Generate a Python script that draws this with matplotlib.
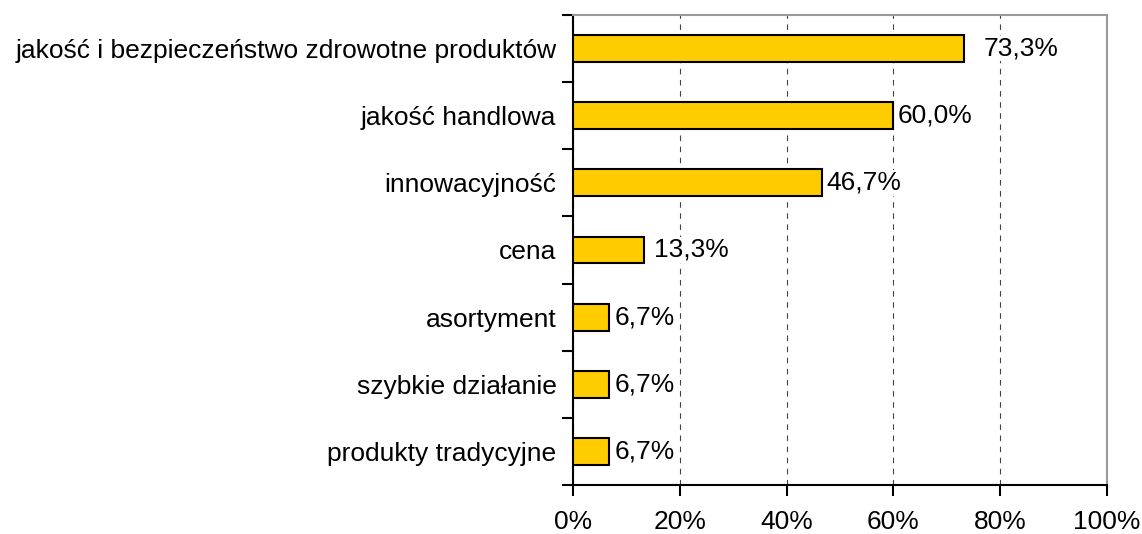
import numpy as np
import matplotlib.pyplot as plt

plt.rcParams['font.family'] = ['Liberation Sans', 'DejaVu Sans']

# data
categories = ["jakość i bezpieczeństwo zdrowotne produktów", "jakość handlowa",
              "innowacyjność", "cena", "asortyment", "szybkie działanie",
              "produkty tradycyjne"]
values = [73.3, 60.0, 46.7, 13.3, 6.7, 6.7, 6.7]
labels = ["73,3%", "60,0%", "46,7%", "13,3%", "6,7%", "6,7%", "6,7%"]
xticks = [0, 20, 40, 60, 80, 100]

# label gaps (points) as placed in the original
pads = [14, 3, 3, 7, 4, 4, 4]

fig = plt.figure(figsize=(11.42, 5.34), dpi=100)
ax = fig.add_axes([0.5018, 0.0918, 0.9694 - 0.5018, 0.9719 - 0.0918])

y = np.arange(len(categories))
bars = ax.barh(y, values, height=0.4, color="#FFCC00", edgecolor="black", linewidth=1.5, zorder=3)
for b, lab, p in zip(bars, labels, pads):
    ax.annotate(lab, (b.get_width(), b.get_y() + b.get_height() / 2),
                xytext=(p, 0), textcoords="offset points", ha="left", va="center",
                fontsize=19, zorder=4,
                bbox=dict(facecolor="white", edgecolor="none", pad=0.5))

ax.set_xlim(0, 100)
ax.set_ylim(len(categories) - 0.5, -0.5)
ax.set_xticks(xticks)
ax.set_xticklabels([f"{t}%" for t in xticks], fontsize=19)
ax.set_yticks(y)
ax.set_yticklabels(categories, fontsize=19)
ax.tick_params(axis="y", which="major", length=0, pad=12)
ax.set_yticks(np.arange(-0.5, len(categories), 1), minor=True)
ax.tick_params(axis="y", which="minor", length=8, width=1.5, direction="out")
ax.tick_params(axis="x", length=8, width=1.5, direction="out", pad=10)

ax.grid(axis="x", linestyle=(0, (5, 5)), color="#444444", linewidth=0.8, zorder=0)
ax.spines["left"].set_linewidth(1.5)
ax.spines["bottom"].set_linewidth(1.5)
ax.spines["top"].set_color("#999999")
ax.spines["right"].set_color("#999999")
ax.spines["top"].set_linewidth(1.5)
ax.spines["right"].set_linewidth(1.5)

fig.savefig("out.png", dpi=100)
